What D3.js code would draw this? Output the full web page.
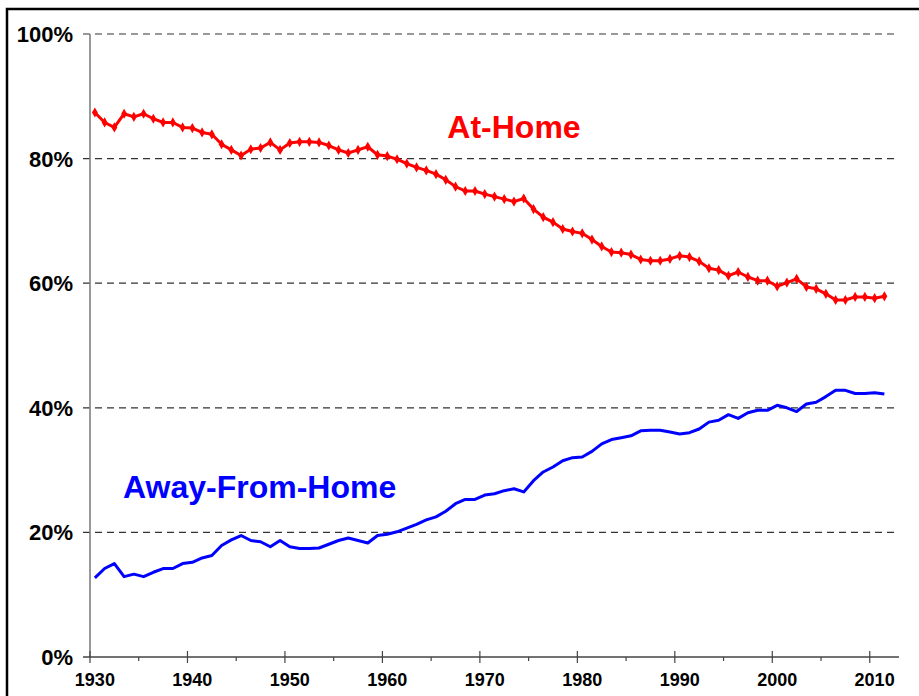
<html lang="en">
  <head>
    <meta charset="UTF-8" />
    <title>Food expenditure shares</title>
    <script src="https://d3js.org/d3.v7.min.js"></script>
  </head>
  <style>
    body { margin: 0; background: #fff; }
    text { font-family: "Liberation Sans", Arial, sans-serif; font-weight: bold; }
  </style>
  <body>
    <svg></svg>
  </body>
  <footer>
    <script>
      var years = d3.range(1930, 2012);
      var tickYears = d3.range(1930, 2011, 10);
      var yTicks = [0, 20, 40, 60, 80, 100];

      var atHome = [
        87.4, 85.8, 85.0, 87.2, 86.7, 87.2, 86.4, 85.8, 85.8, 85.0,
        84.9, 84.2, 83.9, 82.3, 81.4, 80.5, 81.5, 81.7, 82.6, 81.4,
        82.5, 82.7, 82.7, 82.6, 82.1, 81.4, 80.9, 81.4, 81.9, 80.6,
        80.4, 79.9, 79.2, 78.6, 78.1, 77.5, 76.6, 75.5, 74.8, 74.8,
        74.3, 73.9, 73.5, 73.1, 73.6, 71.9, 70.6, 69.8, 68.7, 68.3,
        68.0, 67.0, 65.9, 65.0, 64.9, 64.6, 63.8, 63.6, 63.6, 63.9,
        64.4, 64.2, 63.5, 62.4, 62.1, 61.2, 61.8, 61.0, 60.4, 60.4,
        59.5, 60.1, 60.7, 59.4, 59.1, 58.3, 57.3, 57.3, 57.8, 57.8,
        57.6, 57.9
      ];
      var awayFromHome = [
        12.7, 14.2, 15.0, 12.9, 13.3, 12.9, 13.6, 14.2, 14.2, 15.0,
        15.2, 15.9, 16.3, 17.9, 18.8, 19.5, 18.7, 18.5, 17.7, 18.7,
        17.7, 17.4, 17.4, 17.5, 18.1, 18.7, 19.1, 18.7, 18.3, 19.5,
        19.7, 20.1, 20.7, 21.3, 22.0, 22.5, 23.4, 24.6, 25.3, 25.3,
        26.0, 26.2, 26.7, 27.0, 26.5, 28.3, 29.7, 30.5, 31.5, 32.0,
        32.1, 33.0, 34.2, 34.9, 35.2, 35.5, 36.3, 36.4, 36.4, 36.1,
        35.8, 36.0, 36.6, 37.7, 38.0, 38.9, 38.3, 39.2, 39.6, 39.6,
        40.4, 40.0, 39.4, 40.6, 40.9, 41.8, 42.8, 42.8, 42.3, 42.3,
        42.4, 42.2
      ];

      var width = 919;
      var height = 696;

      var svg = d3.select("svg").attr("width", width).attr("height", height);

      // outer frame (right and bottom edges fall outside the picture)
      svg
        .append("rect")
        .attr("x", 7)
        .attr("y", 9)
        .attr("width", 1000)
        .attr("height", 1000)
        .style("fill", "none")
        .style("stroke", "#000")
        .style("stroke-width", 2.5);

      var x = d3.scaleLinear().domain([1930, 2013]).range([90, 899]);
      var y = d3.scaleLinear().domain([0, 100]).range([657, 34]);

      // dashed gridlines
      svg
        .append("g")
        .selectAll("line")
        .data(yTicks.filter((d) => d > 0))
        .join("line")
        .attr("x1", 83)
        .attr("x2", 897)
        .attr("y1", (d) => y(d))
        .attr("y2", (d) => y(d))
        .style("stroke", "#333")
        .style("stroke-width", 1.2)
        .style("stroke-dasharray", "7,5");

      // y axis
      svg
        .append("line")
        .attr("x1", x(1930))
        .attr("x2", x(1930))
        .attr("y1", y(100))
        .attr("y2", y(0))
        .style("stroke", "#777")
        .style("stroke-width", 1.5);

      svg
        .append("g")
        .selectAll("text")
        .data(yTicks)
        .join("text")
        .attr("x", 73)
        .attr("y", (d) => y(d))
        .attr("dy", "0.36em")
        .attr("text-anchor", "end")
        .style("font-size", "22px")
        .style("fill", "#000")
        .text((d) => d + "%");

      // x axis
      svg
        .append("line")
        .attr("x1", 83)
        .attr("x2", 899)
        .attr("y1", y(0))
        .attr("y2", y(0))
        .style("stroke", "#444")
        .style("stroke-width", 1.5);

      svg
        .append("g")
        .selectAll("line")
        .data(d3.range(1930, 2011, 5))
        .join("line")
        .attr("x1", (d) => x(d))
        .attr("x2", (d) => x(d))
        .attr("y1", (d) => (d % 10 == 0 ? y(0) - 6 : y(0)))
        .attr("y2", (d) => (d % 10 == 0 ? y(0) + 6 : y(0) + 4))
        .style("stroke", "#444")
        .style("stroke-width", 1.2);

      svg
        .append("g")
        .selectAll("text")
        .data(tickYears)
        .join("text")
        .attr("x", (d) => x(d + 0.5))
        .attr("y", 686)
        .attr("text-anchor", "middle")
        .style("font-size", "18px")
        .style("fill", "#000")
        .text((d) => d);

      var line = d3
        .line()
        .x((d, i) => x(years[i] + 0.5))
        .y((d) => y(d));

      svg
        .append("path")
        .datum(awayFromHome)
        .attr("d", line)
        .style("fill", "none")
        .style("stroke", "#0000ff")
        .style("stroke-width", 3)
        .style("stroke-linejoin", "round");

      svg
        .append("path")
        .datum(atHome)
        .attr("d", line)
        .style("fill", "none")
        .style("stroke", "#ff0000")
        .style("stroke-width", 3)
        .style("stroke-linejoin", "round");

      svg
        .append("g")
        .selectAll("path")
        .data(atHome)
        .join("path")
        .attr("transform", (d, i) => `translate(${x(years[i] + 0.5)}, ${y(d)})`)
        .attr("d", d3.symbol().type(d3.symbolDiamond).size(30))
        .style("fill", "#ff0000");

      svg
        .append("text")
        .attr("x", 514)
        .attr("y", 138)
        .attr("text-anchor", "middle")
        .style("font-size", "32px")
        .style("fill", "#ff0000")
        .text("At-Home");

      svg
        .append("text")
        .attr("x", 123)
        .attr("y", 498)
        .style("font-size", "32px")
        .style("fill", "#0000ff")
        .text("Away-From-Home");
    </script>
  </footer>
</html>
